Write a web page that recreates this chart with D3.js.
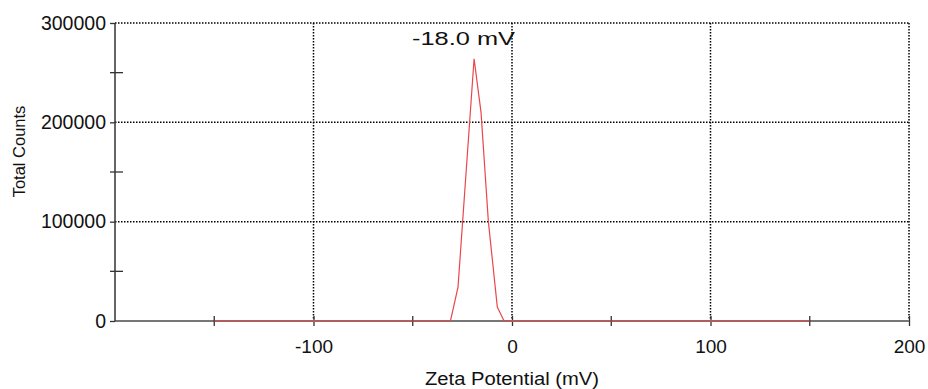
<!DOCTYPE html>
<html>
<head>
<meta charset="utf-8">
<script src="https://cdn.jsdelivr.net/npm/d3@7"></script>
<style>
  body { margin: 0; background: #fff; }
  svg { display: block; font-family: "Liberation Sans", Arial, sans-serif; }
</style>
</head>
<body>
<svg width="928" height="389"></svg>
<script>
// zeta potential distribution (mV -> total counts)
const zeta = [-150, -31, -27.2, -19.1, -15.6, -11.9, -7.4, -4, 150];
const counts = [0, 0, 34000, 264000, 210000, 100000, 14000, 0, 0];

const xMajor = [-100, 0, 100, 200];
const xMinor = [-150, -50, 50, 150];
const yMajor = [0, 100000, 200000, 300000];
const yMinor = [50000, 150000, 250000];
const peakLabel = "-18.0 mV";

const width = 928, height = 389;
const margin = {top: 23, right: 19, bottom: 68, left: 115};

const svg = d3.select("svg");

const x = d3.scaleLinear()
  .domain([-200, 200])
  .range([margin.left, width - margin.right]);

const y = d3.scaleLinear()
  .domain([0, 300000])
  .range([height - margin.bottom, margin.top]);

// dotted grid
const grid = svg.append("g")
  .attr("stroke", "#000")
  .attr("stroke-width", 1.5)
  .attr("stroke-dasharray", "1.5,1.5");

grid.selectAll("line.h")
  .data(yMajor.filter(d => d > 0))
  .enter().append("line")
    .attr("x1", margin.left)
    .attr("x2", width - margin.right)
    .attr("y1", d => y(d))
    .attr("y2", d => y(d));

grid.selectAll("line.v")
  .data(xMajor)
  .enter().append("line")
    .attr("x1", d => x(d))
    .attr("x2", d => x(d))
    .attr("y1", margin.top)
    .attr("y2", y(0));

// x axis
const xAxis = svg.append("g")
  .attr("transform", `translate(0,${y(0)})`)
  .call(d3.axisBottom(x).tickValues(xMajor).tickSize(5).tickPadding(14).tickFormat(d => String(d)))
  .call(g => g.select(".domain").remove());

xAxis.selectAll(".tick line").attr("y1", -5).attr("stroke", "#333").attr("stroke-width", 1.3);
xAxis.selectAll(".tick text").attr("font-size", 19).attr("fill", "#111");

xAxis.append("line")
  .attr("x1", margin.left)
  .attr("x2", width - margin.right)
  .attr("stroke", "#777")
  .attr("stroke-width", 2);

xAxis.selectAll("line.minor")
  .data(xMinor)
  .enter().append("line")
    .attr("x1", d => x(d))
    .attr("x2", d => x(d))
    .attr("y1", -5)
    .attr("y2", 5)
    .attr("stroke", "#333")
    .attr("stroke-width", 1.3);

// y axis
const yAxis = svg.append("g")
  .attr("transform", `translate(${margin.left},0)`)
  .call(d3.axisLeft(y).tickValues(yMajor).tickSize(5).tickPadding(4).tickFormat(d => String(d)))
  .call(g => g.select(".domain").remove());

yAxis.selectAll(".tick line").attr("stroke", "#333").attr("stroke-width", 1.3);
yAxis.selectAll(".tick text").attr("font-size", 19.5).attr("fill", "#111");

yAxis.append("line")
  .attr("y1", margin.top)
  .attr("y2", y(0))
  .attr("stroke", "#333")
  .attr("stroke-width", 1.5);

yAxis.selectAll("line.minor")
  .data(yMinor)
  .enter().append("line")
    .attr("x1", -5)
    .attr("x2", 8)
    .attr("y1", d => y(d))
    .attr("y2", d => y(d))
    .attr("stroke", "#333")
    .attr("stroke-width", 1.3);

// distribution line
const line = d3.line()
  .x((d, i) => x(zeta[i]))
  .y(d => y(d));

svg.append("path")
  .datum(counts)
  .attr("fill", "none")
  .attr("stroke", "#e8474a")
  .attr("stroke-width", 1.2)
  .attr("d", line);

// peak label
svg.append("text")
  .attr("x", 412)
  .attr("y", 45)
  .attr("font-size", 19)
  .attr("textLength", 103)
  .attr("lengthAdjust", "spacingAndGlyphs")
  .attr("fill", "#111")
  .text(peakLabel);

// axis titles
svg.append("text")
  .attr("x", 425)
  .attr("y", 385)
  .attr("font-size", 17.5)
  .attr("textLength", 174)
  .attr("lengthAdjust", "spacingAndGlyphs")
  .attr("fill", "#111")
  .text("Zeta Potential (mV)");

svg.append("text")
  .attr("transform", "translate(25,151.5) rotate(-90)")
  .attr("text-anchor", "middle")
  .attr("font-size", 16.5)
  .attr("fill", "#111")
  .text("Total Counts");
</script>
</body>
</html>
